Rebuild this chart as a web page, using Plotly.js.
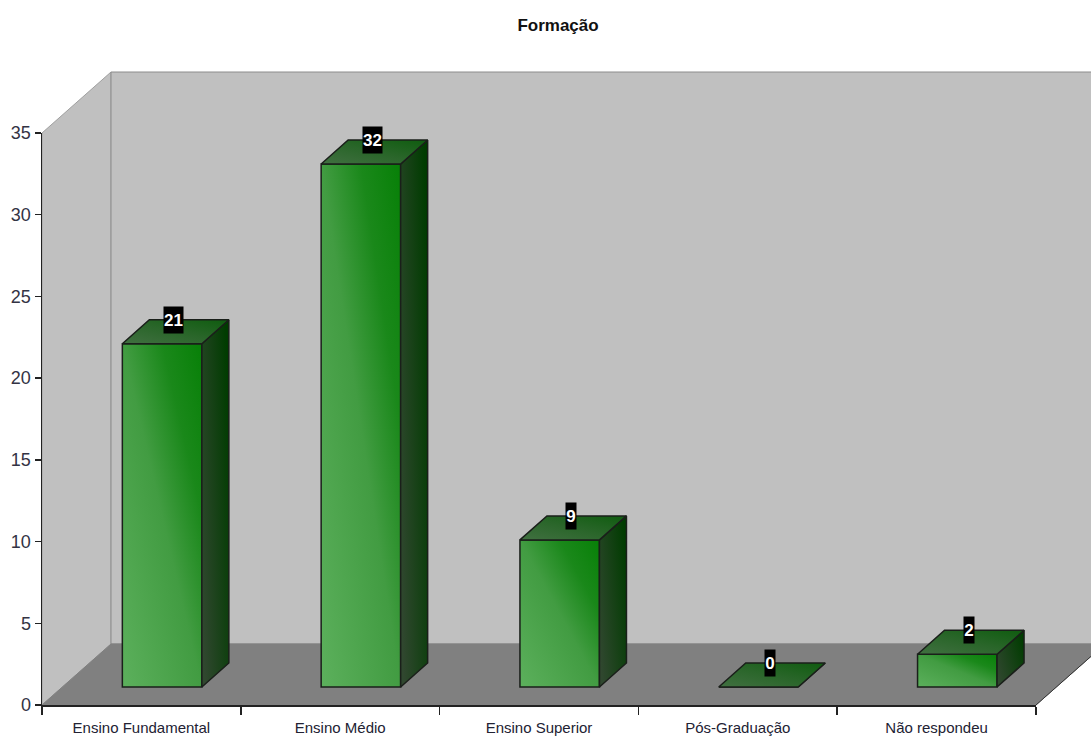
<!DOCTYPE html>
<html lang="pt">
<head>
<meta charset="utf-8">
<title>Formação</title>
<script src="https://cdn.plot.ly/plotly-3.0.1.min.js"></script>
<style>
  html, body { margin: 0; padding: 0; background: #fff; }
  #chart { width: 1091px; height: 740px; }
</style>
</head>
<body>
<div id="chart"></div>
<script>
// Survey answers: education level of the respondents.
const categories = ['Ensino Fundamental', 'Ensino Médio', 'Ensino Superior', 'Pós-Graduação', 'Não respondeu'];
const values = [21, 32, 9, 0, 2];
const yTicks = [0, 5, 10, 15, 20, 25, 30, 35];

// Canvas size and where the ticked axes sit on it, in pixels.
const W = 1091, H = 740;
const axisLeft = 42, axisRight = 1036, axisBottom = 705, axisTop = 133;
const yMax = 35;
const pxPerCat = (axisRight - axisLeft) / categories.length;
const pxPerVal = (axisBottom - axisTop) / yMax;

// Oblique projection offsets, expressed in axis units.
const roomDx = 69 / pxPerCat, roomDy = 61 / pxPerVal;   // depth of the room
const barDx = 27 / pxPerCat, barDy = 24 / pxPerVal;     // depth of a bar
const barShift = 20.7 / pxPerCat, barLift = 18 / pxPerVal; // bars stand inside the floor
const barWidth = 79.5 / pxPerCat;
const edge = '#1a1f1a';

const xLo = -0.5, xHi = categories.length - 0.5;
const polygon = pts => 'M' + pts.map(p => p.join(',')).join('L') + 'Z';

// Room: left wall, back wall and floor, all behind the bars.
const roomShapes = [
  { pts: [[xLo, 0], [xLo + roomDx, roomDy], [xLo + roomDx, yMax + roomDy], [xLo, yMax]], fill: '#c0c0c0', line: '#a0a0a0' },
  { pts: [[xLo + roomDx, roomDy], [xHi + roomDx, roomDy], [xHi + roomDx, yMax + roomDy], [xLo + roomDx, yMax + roomDy]], fill: '#c0c0c0', line: '#8c8c8c' },
  { pts: [[xLo, 0], [xHi, 0], [xHi + roomDx, roomDy], [xLo + roomDx, roomDy]], fill: '#808080', line: '#808080' }
].map(s => ({
  type: 'path', xref: 'x', yref: 'y', layer: 'below',
  path: polygon(s.pts), fillcolor: s.fill, line: { color: s.line, width: 1 }
}));
// Thin rim on the open right side of the floor.
roomShapes.push({
  type: 'line', xref: 'x', yref: 'y', layer: 'below',
  x0: xHi, y0: 0, x1: xHi + roomDx, y1: roomDy, line: { color: '#333333', width: 1 }
});

const centers = categories.map((_, i) => i + barShift);

// Front faces are ordinary bars raised off the floor.
const frontFaces = {
  type: 'bar', xaxis: 'x', yaxis: 'y',
  x: centers, y: values, base: values.map(() => barLift), width: barWidth,
  marker: { color: '#329832', line: { color: edge, width: 1.5 } },
  hoverinfo: 'skip'
};

const TOP_FILL = 'rgb(40, 100, 40)', SIDE_FILL = 'rgb(24, 70, 24)';

function faceTrace(xs, ys, fill) {
  return {
    type: 'scatter', mode: 'lines', xaxis: 'x', yaxis: 'y',
    x: xs, y: ys, fill: 'toself', fillcolor: fill,
    line: { color: edge, width: 1.5 }, hoverinfo: 'skip'
  };
}

const sideFaces = values.map((v, i) => {
  const r = centers[i] + barWidth / 2, b = barLift, t = barLift + v;
  return faceTrace([r, r + barDx, r + barDx, r, r], [t, t + barDy, b + barDy, b, t], SIDE_FILL);
});
const topFaces = values.map((v, i) => {
  const l = centers[i] - barWidth / 2, r = centers[i] + barWidth / 2, t = barLift + v;
  return faceTrace([l, r, r + barDx, l + barDx, l], [t, t, t + barDy, t + barDy, t], TOP_FILL);
});

// Carries the visible category and value axes.
const axisCarrier = {
  type: 'scatter', mode: 'markers', xaxis: 'x2', yaxis: 'y2',
  x: categories, y: values, marker: { opacity: 0, size: 1 }, hoverinfo: 'skip'
};

const axisFont = '"Liberation Sans", Arial, sans-serif';

// Value badges, centred on the back edge of each bar's top.
const valueLabels = values.map((v, i) => ({
  xref: 'x', yref: 'y',
  x: centers[i] + barDx / 2 - 2 / pxPerCat,
  y: barLift + v + barDy,
  text: String(v), showarrow: false,
  xanchor: 'center', yanchor: 'middle',
  width: String(v).length > 1 ? 19 : 10, height: 26, borderpad: 0,
  bgcolor: '#000000',
  font: { family: axisFont, size: 17, color: '#ffffff', weight: 'bold' }
}));

const layout = {
  width: W, height: H,
  margin: { l: 0, r: 0, t: 0, b: 0, pad: 0 },
  paper_bgcolor: '#ffffff', plot_bgcolor: 'rgba(0,0,0,0)',
  showlegend: false, bargap: 0, hovermode: false,
  title: {
    text: 'Formação', x: 558 / W, xanchor: 'center', y: 1 - 25 / H, yanchor: 'middle',
    font: { family: axisFont, size: 17, color: '#111111', weight: 'bold' }
  },
  // Full-canvas axes with the same scale as the ticked ones; the projected room lives here.
  xaxis: {
    domain: [0, 1], visible: false, fixedrange: true,
    range: [xLo - axisLeft / pxPerCat, xHi + (W - axisRight) / pxPerCat]
  },
  yaxis: {
    domain: [0, 1], visible: false, fixedrange: true,
    range: [-(H - axisBottom) / pxPerVal, axisBottom / pxPerVal]
  },
  xaxis2: {
    type: 'category', categoryorder: 'array', categoryarray: categories,
    anchor: 'y2', domain: [axisLeft / W, axisRight / W], range: [xLo, xHi],
    tickson: 'boundaries', ticks: 'outside', ticklen: 8, tickwidth: 1.5, tickcolor: '#222222',
    showline: true, linecolor: '#222222', linewidth: 1.5, showgrid: false, zeroline: false,
    ticklabelstandoff: 8,
    tickfont: { family: axisFont, size: 15, color: '#222233' }, fixedrange: true
  },
  yaxis2: {
    anchor: 'x2', domain: [(H - axisBottom) / H, (H - axisTop) / H], range: [0, yMax],
    tickmode: 'array', tickvals: yTicks, ticktext: yTicks.map(String),
    ticks: 'outside', ticklen: 6, tickwidth: 1.5, tickcolor: '#222222',
    showline: true, linecolor: '#222222', linewidth: 1.5, showgrid: false, zeroline: false,
    tickfont: { family: axisFont, size: 18, color: '#333344' }, fixedrange: true
  },
  shapes: roomShapes,
  annotations: valueLabels
};

// Diagonal shading for the bar faces: light at the lower left, saturated at the upper right.
const shades = [
  { id: 'shade-front', y1: 1, y2: 0, stops: [[0, '#5cb05c'], [0.5, '#429c42'], [0.75, '#1a881a'], [1, '#078007']] },
  { id: 'shade-top', y1: 1, y2: 0, stops: [[0, '#417041'], [0.5, '#2a662a'], [1, '#0f5c0f']] },
  { id: 'shade-side', y1: 0.8, y2: 0.2, stops: [[0, '#30472f'], [1, '#003c00']] }
];

function applyShading(gd) {
  const svg = gd.querySelector('.main-svg');
  const defs = svg.querySelector('defs');
  const NS = 'http://www.w3.org/2000/svg';
  shades.forEach(s => {
    if (defs.querySelector('#' + s.id)) return;
    const g = document.createElementNS(NS, 'linearGradient');
    g.setAttribute('id', s.id);
    g.setAttribute('x1', '0'); g.setAttribute('y1', s.y1);
    g.setAttribute('x2', '1'); g.setAttribute('y2', s.y2);
    s.stops.forEach(([o, c]) => {
      const stop = document.createElementNS(NS, 'stop');
      stop.setAttribute('offset', o);
      stop.setAttribute('stop-color', c);
      g.appendChild(stop);
    });
    defs.appendChild(g);
  });
  gd.querySelectorAll('.bars .point path').forEach(p => { p.style.fill = 'url(#shade-front)'; });
  gd.querySelectorAll('.scatterlayer path.js-fill').forEach(p => {
    const f = p.style.fill.replace(/\s/g, '');
    if (f === TOP_FILL.replace(/\s/g, '')) p.style.fill = 'url(#shade-top)';
    if (f === SIDE_FILL.replace(/\s/g, '')) p.style.fill = 'url(#shade-side)';
  });
}

const gd = document.getElementById('chart');
Plotly.newPlot(gd, [frontFaces, ...sideFaces, ...topFaces, axisCarrier], layout, { displayModeBar: false, staticPlot: true })
  .then(() => applyShading(gd));
</script>
</body>
</html>
